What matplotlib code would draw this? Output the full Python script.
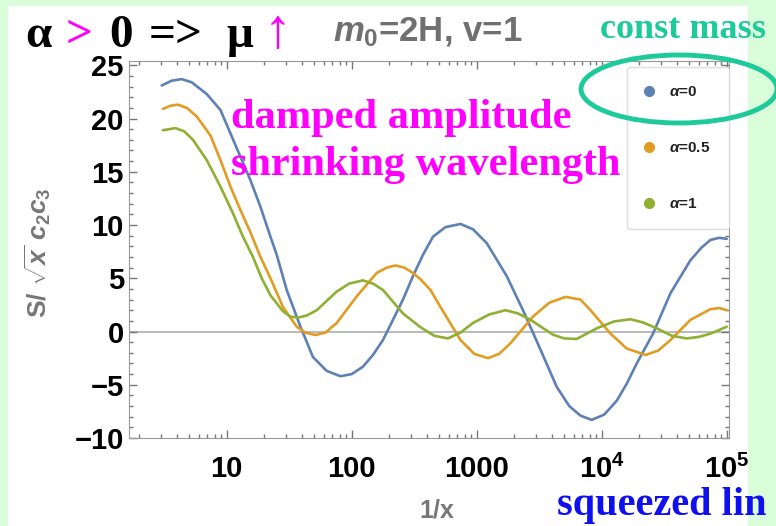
import numpy as np
import matplotlib
matplotlib.use('Agg')
import matplotlib.pyplot as plt
from matplotlib.patches import Rectangle, Ellipse
from matplotlib.lines import Line2D
from matplotlib.ticker import FixedLocator, NullFormatter

plt.rcParams['font.family'] = ['Liberation Sans', 'DejaVu Sans']
plt.rcParams['mathtext.fontset'] = 'custom'
plt.rcParams['mathtext.rm'] = 'Liberation Sans:bold'
plt.rcParams['mathtext.it'] = 'Liberation Sans:italic:bold'
plt.rcParams['mathtext.bf'] = 'Liberation Sans:bold'

# log10(1/x) positions and values
blue_lx = [0.48, 0.56, 0.64, 0.72, 0.84, 0.95, 1.03, 1.11, 1.19, 1.27, 1.35, 1.40, 1.48, 1.59,
           1.69, 1.80, 1.91, 2.00, 2.09, 2.17, 2.25, 2.33, 2.41, 2.49, 2.57, 2.65, 2.75, 2.87,
           2.97, 3.08, 3.24, 3.37, 3.51, 3.64, 3.74, 3.83, 3.92, 4.02, 4.12, 4.20, 4.28, 4.41,
           4.55, 4.71, 4.80, 4.87, 4.94, 5.0]
blue_y = [23.1, 23.55, 23.7, 23.4, 22.3, 20.8, 18.6, 16.4, 14.2, 11.7, 8.9, 7.2, 3.9, 0.45,
          -2.4, -3.7, -4.2, -4.0, -3.3, -2.2, -0.8, 1.1, 3.0, 5.2, 7.2, 8.9, 9.8, 10.1,
          9.6, 8.3, 5.2, 2.0, -1.7, -5.2, -7.0, -7.9, -8.3, -7.8, -6.5, -4.9, -3.0, -0.2,
          3.6, 6.7, 7.9, 8.6, 8.8, 8.7]

orange_lx = [0.49, 0.55, 0.61, 0.68, 0.76, 0.87, 0.95, 1.03, 1.11, 1.19, 1.27, 1.35, 1.45,
             1.56, 1.63, 1.71, 1.79, 1.88, 2.04, 2.2, 2.28, 2.35, 2.42, 2.49, 2.55, 2.63,
             2.71, 2.87, 2.98, 3.09, 3.18, 3.27, 3.45, 3.58, 3.71, 3.83, 3.91, 4.07, 4.2,
             4.35, 4.45, 4.55, 4.71, 4.87, 4.94, 5.0]
orange_y = [20.9, 21.2, 21.3, 21.0, 20.2, 18.4, 16.1, 13.6, 11.4, 9.3, 7.0, 5.0, 2.3,
            0.45, -0.1, -0.33, -0.1, 0.8, 3.3, 5.5, 6.0, 6.2, 6.0, 5.5, 4.9, 3.9,
            2.3, -0.8, -2.1, -2.5, -2.1, -1.1, 1.4, 2.7, 3.25, 3.0, 2.0, -0.2, -1.6,
            -2.2, -1.8, -0.8, 1.1, 2.1, 2.2, 2.0]

green_lx = [0.49, 0.59, 0.66, 0.73, 0.84, 0.95, 1.05, 1.13, 1.21, 1.28, 1.35, 1.45, 1.51,
            1.57, 1.64, 1.72, 1.88, 1.98, 2.09, 2.17, 2.25, 2.41, 2.55, 2.66, 2.77, 2.87,
            2.97, 3.1, 3.23, 3.33, 3.43, 3.61, 3.7, 3.8, 3.96, 4.1, 4.23, 4.33, 4.44, 4.56,
            4.68, 4.78, 4.87, 5.0]
green_y = [18.9, 19.1, 18.8, 18.0, 16.1, 13.6, 11.1, 8.9, 7.0, 5.0, 3.4, 1.9, 1.4,
           1.3, 1.5, 2.0, 3.75, 4.5, 4.8, 4.5, 3.9, 1.7, 0.4, -0.4, -0.65, -0.1,
           0.8, 1.6, 2.0, 1.7, 1.1, -0.3, -0.65, -0.7, 0.3, 0.95, 1.15, 0.85, 0.3, -0.4,
           -0.65, -0.5, -0.2, 0.45]

labels = [r'$\alpha$=0', r'$\alpha$=0.5', r'$\alpha$=1']
colors = ['#5e81b5', '#e19c24', '#8fb032']

W, H = 776, 526


def fx(x):
    return x / W


def fy(y):
    return 1 - y / H


fig = plt.figure(figsize=(W / 100, H / 100), dpi=100, facecolor='#d9fcd9')
fig.patches.append(Rectangle((fx(8), 0), fx(740), 1 - 6 / H, transform=fig.transFigure,
                             facecolor='white', edgecolor='none', zorder=-2))

ax = fig.add_axes([fx(128.7), fy(438), fx(729 - 128.7), (438 - 61) / H])
ax.set_xscale('log')

series = [(blue_lx, blue_y), (orange_lx, orange_y), (green_lx, green_y)]
for (lx, yy), c in zip(series, colors):
    ax.plot(10 ** np.array(lx), yy, color=c, lw=1.9, solid_capstyle='round',
            solid_joinstyle='round')

ax.axhline(0, color='#bbbbbb', lw=1.5, zorder=0)
ax.set_xlim(10 ** 0.216, 10 ** 5.018)
ax.set_ylim(-10, 25.4)

ax.xaxis.set_major_locator(FixedLocator([10, 100, 1000, 1e4, 1e5]))
ax.set_xticklabels(['10', '100', '1000', r'$10^4$', r'$10^5$'])
minors = [m * 10 ** e for e in range(0, 5) for m in range(2, 10)]
ax.xaxis.set_minor_locator(FixedLocator(minors))
ax.xaxis.set_minor_formatter(NullFormatter())
ax.set_yticks(np.arange(-10, 26, 5))
ax.set_yticks(np.arange(-10, 26, 1), minor=True)

ax.tick_params(which='both', direction='in', top=True, right=True, color='#777777', width=1)
ax.tick_params(which='major', length=6, labelsize=21)
ax.tick_params(which='minor', length=3)
ax.tick_params(axis='x', which='major', pad=12)
for lab in ax.get_xticklabels() + ax.get_yticklabels():
    lab.set_fontweight('bold')
for sp in ax.spines.values():
    sp.set_color('#999999')

ax.set_xlabel('1/x', fontsize=18, fontweight='bold', color='#777777')
ax.xaxis.set_label_coords((437 - 128.7) / 600.3, -0.16)
ax.set_ylabel(r'S/ $\sqrt{x}$ $c_2c_3$', fontsize=19, fontweight='bold', color='#777777')
ax.yaxis.set_label_coords((53 - 128.7) / 600.3, (438 - 253) / 377)

handles = [Line2D([], [], marker='o', ls='none', color=c, markersize=7) for c in colors]
leg = ax.legend(handles, labels, loc='upper right', bbox_to_anchor=(1.0, 0.985),
                borderaxespad=0, prop={'size': 11, 'weight': 'bold'}, borderpad=1.2,
                labelspacing=2.75, handlelength=0.5, handletextpad=1.1, framealpha=1,
                edgecolor='#dddddd', fancybox=True)
for t in leg.get_texts():
    t.set_color('#222222')

# title pieces
serif = ['Liberation Serif', 'DejaVu Serif']
pieces = [('α', 25, 'black', 34), ('>', 66, '#ff00ff', 34), ('0', 109, 'black', 34),
          ('=>', 149, 'black', 34), ('μ', 226, 'black', 34), ('↑', 264, '#ff00ff', 40)]
for s, x, c, fs in pieces:
    fig.text(fx(x), fy(47), s, fontsize=fs, fontweight='bold', color=c, family=serif,
             va='baseline', ha='left', zorder=5)

fig.text(fx(333), fy(41), r'$m_0$=2H, v=1', fontsize=25, fontweight='bold', color='#707070',
         va='baseline', ha='left', zorder=5)
fig.text(fx(600), fy(38), 'const mass', fontsize=26, fontweight='bold', color='#1ec99a',
         family=serif, va='baseline', ha='left', zorder=5)
fig.patches.append(Ellipse((fx(679), fy(89)), fx(196), 68 / H, transform=fig.transFigure,
                           fill=False, edgecolor='#1ec99a', lw=3.5, zorder=5))
fig.text(fx(231), fy(128), 'damped amplitude', fontsize=30.5,
         fontweight='bold', color='#ff00ff', family=serif, va='baseline', ha='left', zorder=5)
fig.text(fx(231), fy(175), 'shrinking wavelength', fontsize=30.5,
         fontweight='bold', color='#ff00ff', family=serif, va='baseline', ha='left', zorder=5)
fig.text(fx(557), fy(515), 'squeezed lin', fontsize=29, fontweight='bold', color='#1010ee',
         family=serif, va='baseline', ha='left', zorder=5)

fig.savefig('out.png', dpi=100, facecolor=fig.get_facecolor())
